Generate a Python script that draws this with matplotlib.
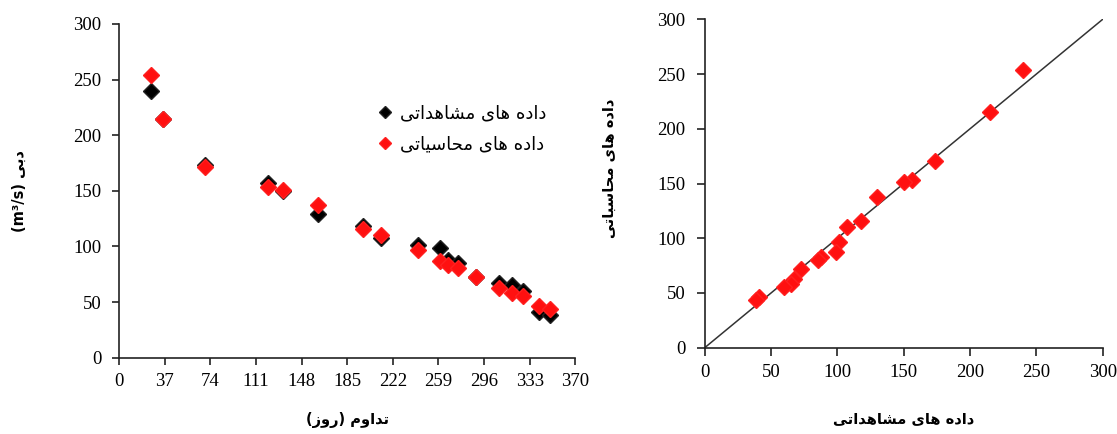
import matplotlib
matplotlib.use("Agg")
import matplotlib.pyplot as plt

# duration (days) and discharge (m3/s)
days = [25.7, 35.7, 69.5, 120.4, 132.5, 161.2, 197.6, 212.2, 242, 260,
        266.8, 275, 289.3, 308, 319, 327.2, 340.4, 349.3]
observed = [240, 215, 173.5, 156.6, 150, 129.5, 118, 107.5, 101.5, 99,
            87.5, 85.5, 72.5, 67.5, 65, 60, 41, 38.5]
calculated = [254, 215, 171, 153, 151, 137.4, 116, 110.6, 96.5, 87.3,
              83, 80.5, 72.3, 63, 58, 55.5, 46.5, 44]

day_ticks = [0, 37, 74, 111, 148, 185, 222, 259, 296, 333, 370]
q_ticks = [0, 50, 100, 150, 200, 250, 300]
one_to_one = [0, 300]

label_obs = "داده های مشاهداتی"
label_calc_legend = "داده های محاسیاتی"
label_calc = "داده های محاسباتی"
label_days = "تداوم (روز)"
label_q = "دبی"

# matplotlib does no arabic shaping, so pick presentation forms by hand
# (isolated, final, initial, medial)
FORMS = {
    "ا": ("\uFE8D", "\uFE8E", None, None),
    "ب": ("\uFE8F", "\uFE90", "\uFE91", "\uFE92"),
    "ت": ("\uFE95", "\uFE96", "\uFE97", "\uFE98"),
    "ح": ("\uFEA1", "\uFEA2", "\uFEA3", "\uFEA4"),
    "د": ("\uFEA9", "\uFEAA", None, None),
    "ر": ("\uFEAD", "\uFEAE", None, None),
    "ز": ("\uFEAF", "\uFEB0", None, None),
    "س": ("\uFEB1", "\uFEB2", "\uFEB3", "\uFEB4"),
    "ش": ("\uFEB5", "\uFEB6", "\uFEB7", "\uFEB8"),
    "م": ("\uFEE1", "\uFEE2", "\uFEE3", "\uFEE4"),
    "ه": ("\uFEE9", "\uFEEA", "\uFEEB", "\uFEEC"),
    "و": ("\uFEED", "\uFEEE", None, None),
    "ی": ("\uFEEF", "\uFEF0", "\uFEF3", "\uFEF4"),
}
MIRROR = {"(": ")", ")": "("}


def shape(text):
    out = []
    for i, ch in enumerate(text):
        if ch not in FORMS:
            out.append(MIRROR.get(ch, ch))
            continue
        iso, fin, ini, med = FORMS[ch]
        prev = text[i - 1] if i > 0 else ""
        nxt = text[i + 1] if i + 1 < len(text) else ""
        join_prev = prev in FORMS and FORMS[prev][2] is not None
        join_next = ini is not None and nxt in FORMS
        if join_prev and join_next:
            out.append(med)
        elif join_prev:
            out.append(fin)
        elif join_next:
            out.append(ini)
        else:
            out.append(iso)
    return "".join(reversed(out))


plt.rcParams["font.family"] = ["Liberation Serif", "DejaVu Sans"]
plt.rcParams["axes.linewidth"] = 1.2
plt.rcParams["axes.edgecolor"] = "#222222"

fig = plt.figure(figsize=(11.17, 4.34), dpi=100)

# left: discharge vs duration
ax1 = fig.add_axes([0.1068, 0.1758, 0.4082, 0.769])
ax1.plot(days, observed, "D", color="black", ms=8, mec="#222222",
         label=shape(label_obs))
ax1.plot(days, calculated, "D", color="#ff1010", ms=8, mec="#ff2020",
         label=shape(label_calc_legend))
ax1.set_xlim(0, 370)
ax1.set_ylim(0, 300)
ax1.set_xticks(day_ticks)
ax1.set_yticks(q_ticks)
for s in ("top", "right"):
    ax1.spines[s].set_visible(False)
ax1.tick_params(axis="both", direction="out", length=5, width=1.2,
                labelsize=13.5, color="#222222")
ax1.tick_params(axis="y", pad=8)
ax1.tick_params(axis="x", pad=6)
ax1.set_xlabel(shape(label_days), fontsize=10.5, fontweight="bold",
               family=["DejaVu Sans"])
ax1.xaxis.set_label_coords(0.5, -0.163)
ax1.set_ylabel("(m³/s) " + shape(label_q), fontsize=10.5, fontweight="bold",
               family=["DejaVu Sans"])
ax1.yaxis.set_label_coords(-0.202, 0.5)
ax1.legend(loc="upper left", bbox_to_anchor=(0.571, 0.76), frameon=False,
           handlelength=0.6, handletextpad=0.5,
           labelspacing=0.75, markerscale=0.8, borderaxespad=0, borderpad=0,
           prop={"family": ["DejaVu Sans"], "size": 13})

# right: calculated vs observed
ax2 = fig.add_axes([0.6309, 0.1988, 0.3563, 0.7567])
ax2.plot(one_to_one, one_to_one, color="#333333", lw=1.1)
ax2.plot(observed, calculated, "D", color="#ff1010", ms=8, mec="#ff2020")
ax2.set_xlim(0, 300)
ax2.set_ylim(0, 300)
ax2.set_xticks(q_ticks)
ax2.set_yticks(q_ticks)
for s in ("top", "right"):
    ax2.spines[s].set_visible(False)
ax2.tick_params(axis="both", direction="out", length=6, width=1.2,
                labelsize=13.5, color="#222222")
ax2.tick_params(axis="y", pad=8)
ax2.tick_params(axis="x", pad=6)
ax2.set_xlabel(shape(label_obs), fontsize=10.5, fontweight="bold",
               family=["DejaVu Sans"])
ax2.xaxis.set_label_coords(0.5, -0.193)
ax2.set_ylabel(shape(label_calc), fontsize=10.5, fontweight="bold",
               family=["DejaVu Sans"])
ax2.yaxis.set_label_coords(-0.22, 0.547)

fig.savefig("out.png", dpi=100)
